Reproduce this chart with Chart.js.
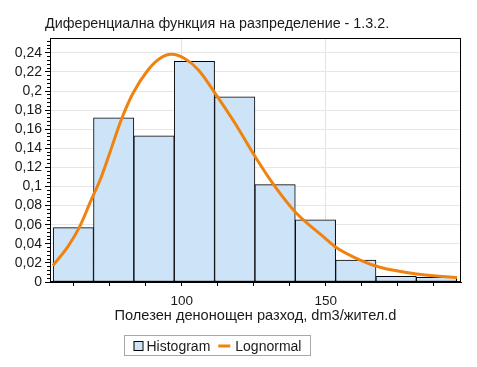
<!DOCTYPE html>
<html>
<head>
<meta charset="utf-8">
<title>Диференциална функция на разпределение</title>
<script src="https://cdn.jsdelivr.net/npm/chart.js@4.4.1/dist/chart.umd.min.js"></script>
<style>
	html, body { margin: 0; padding: 0; background: #fff; }
	#wrap { width: 477px; height: 367px; }
</style>
</head>
<body>
<div id="wrap"><canvas id="histcanvas" width="477" height="367"></canvas></div>
<script>
// chart data
var chartTitle = "Диференциална функция на разпределение - 1.3.2.";
var xTitle = "Полезен денонощен разход, dm3/жител.d";
var histLabel = "Histogram";
var curveLabel = "Lognormal";

// histogram: bin centres (bin width 14) and heights
var binCenters = [62.4, 76.4, 90.4, 104.4, 118.4, 132.4, 146.4, 160.4, 174.4, 188.4];
var histValues = [0.057, 0.172, 0.153, 0.231, 0.194, 0.102, 0.065, 0.023, 0.006, 0.005];

// lognormal density curve
var curveX = [55.3, 60.5, 64.6, 68.6, 72.1, 75.0, 79.0, 83.1, 88.3, 92.4, 96.4, 101.0, 105.8, 111.6,
	118.5, 125.5, 132.4, 139.3, 149.5, 153.2, 161.9, 168.8, 181.6, 194.3, 195.5];
var curveY = [0.0171, 0.037, 0.058, 0.0859, 0.110, 0.1348, 0.1696, 0.1976, 0.222, 0.234, 0.2384, 0.234, 0.222, 0.1976,
	0.1662, 0.1312, 0.0998, 0.0736, 0.0465, 0.037, 0.023, 0.0154, 0.0084, 0.0049, 0.0047];

var xMin = 54.3, xMax = 196.9;
var yMin = 0, yMax = 0.2555;

var FONT = "'Liberation Sans', Arial, sans-serif";

// build point lists
var histPoints = [];
for (var i = 0; i < binCenters.length; i++) {
	histPoints.push({ x: binCenters[i], y: histValues[i] });
}
var curvePoints = [];
for (var j = 0; j < curveX.length; j++) {
	curvePoints.push({ x: curveX[j], y: curveY[j] });
}

function decComma(v) {
	return String(Math.round(v * 100) / 100).replace(".", ",");
}

// title, plot frame and boxed legend
var extras = {
	id: "extras",
	afterDraw: function(chart) {
		var c = chart.ctx;
		var a = chart.chartArea;
		c.save();

		c.strokeStyle = "#000";
		c.lineWidth = 1;
		c.strokeRect(Math.round(a.left) + 0.5, Math.round(a.top) + 0.5,
			Math.round(a.right - a.left) - 1, Math.round(a.bottom - a.top) - 1);

		c.fillStyle = "#1a1a1a";
		c.font = "14.3px " + FONT;
		c.textBaseline = "alphabetic";
		c.textAlign = "left";
		c.fillText(chartTitle, 45, 28);

		// legend
		var ds = chart.data.datasets;
		c.font = "14px " + FONT;
		var lx = 124.5, ly = 335.5, lh = 20;
		var w1 = c.measureText(ds[0].label).width;
		var w2 = c.measureText(ds[1].label).width;
		var lw = 9 + 10 + 3 + w1 + 8 + 12 + 5 + w2 + 9;
		c.strokeStyle = "#a8a8a8";
		c.strokeRect(lx, ly, Math.round(lw), lh);

		var x = lx + 9;
		c.fillStyle = ds[0].backgroundColor;
		c.fillRect(x, ly + 6.5, 9, 9);
		c.strokeStyle = "#000";
		c.strokeRect(x + 0.5, ly + 6, 9, 9);
		x += 10 + 3;
		c.fillStyle = "#1a1a1a";
		c.fillText(ds[0].label, x, ly + 15.5);
		x += w1 + 8;
		c.strokeStyle = ds[1].borderColor;
		c.lineWidth = 3;
		c.beginPath();
		c.moveTo(x, ly + 10.5);
		c.lineTo(x + 12, ly + 10.5);
		c.stroke();
		x += 12 + 5;
		c.fillText(ds[1].label, x, ly + 15.5);
		c.restore();
	}
};

var ctx = document.getElementById("histcanvas");

var data = {
	datasets: [
		{
			type: "bar",
			label: histLabel,
			data: histPoints,
			xAxisID: "xb",
			yAxisID: "y",
			backgroundColor: "#cde4f8",
			borderColor: "#000",
			borderWidth: 1,
			borderSkipped: false,
			grouped: false,
			barPercentage: 1.0,
			categoryPercentage: 1.0,
			order: 2
		},
		{
			type: "line",
			label: curveLabel,
			data: curvePoints,
			xAxisID: "x",
			yAxisID: "y",
			borderColor: "#f0820f",
			borderWidth: 3,
			pointRadius: 0,
			fill: false,
			cubicInterpolationMode: "monotone",
			order: 1
		}
	]
};

var options = {
	responsive: false,
	animation: false,
	layout: { padding: { left: 0, top: 38, right: 16, bottom: 0 } },
	plugins: {
		legend: { display: false },
		title: { display: false },
		tooltip: { enabled: false }
	},
	scales: {
		x: {
			type: "linear",
			position: "bottom",
			min: xMin,
			max: xMax,
			offset: false,
			afterFit: function(scale) { scale.height = 85; },
			border: { display: true, color: "#000" },
			grid: {
				offset: false,
				color: function(c) { return (c.tick && c.tick.value % 50 === 0) ? "#e2e2e2" : "rgba(0,0,0,0)"; },
				tickColor: "#000",
				tickLength: 4
			},
			ticks: {
				stepSize: 12.5,
				includeBounds: false,
				maxTicksLimit: 100,
				autoSkip: false,
				maxRotation: 0,
				padding: 7,
				color: "#1a1a1a",
				font: { family: FONT, size: 13.5 },
				callback: function(v) { return v % 50 === 0 ? String(v) : ""; }
			},
			title: {
				display: true,
				text: xTitle,
				color: "#1a1a1a",
				font: { family: FONT, size: 14.6 },
				padding: { top: 0, bottom: 42 }
			}
		},
		xb: {
			type: "linear",
			display: false,
			offset: false,
			grid: { offset: false },
			min: xMin,
			max: xMax,
			ticks: { stepSize: 14, includeBounds: false }
		},
		y: {
			type: "linear",
			position: "left",
			min: yMin,
			max: yMax,
			weight: 0,
			afterFit: function(scale) { scale.width = 50; },
			border: { display: true, color: "#000" },
			grid: { color: "#e6e6e6", tickColor: "#000", tickLength: 5 },
			ticks: {
				stepSize: 0.02,
				includeBounds: false,
				maxTicksLimit: 100,
				autoSkip: false,
				padding: 3,
				color: "#1a1a1a",
				font: { family: FONT, size: 14 },
				callback: function(v) { return decComma(v); }
			}
		},
		ym: {
			type: "linear",
			position: "left",
			min: yMin,
			max: yMax,
			weight: -1,
			afterFit: function(scale) { scale.width = 0; },
			border: { display: false },
			grid: { drawOnChartArea: false, tickColor: "#000", tickLength: 3 },
			ticks: { display: false, stepSize: 0.004, includeBounds: false, maxTicksLimit: 100, autoSkip: false }
		}
	}
};

var chart = new Chart(ctx, {
	type: "bar",
	data: data,
	options: options,
	plugins: [extras]
});
</script>
</body>
</html>
